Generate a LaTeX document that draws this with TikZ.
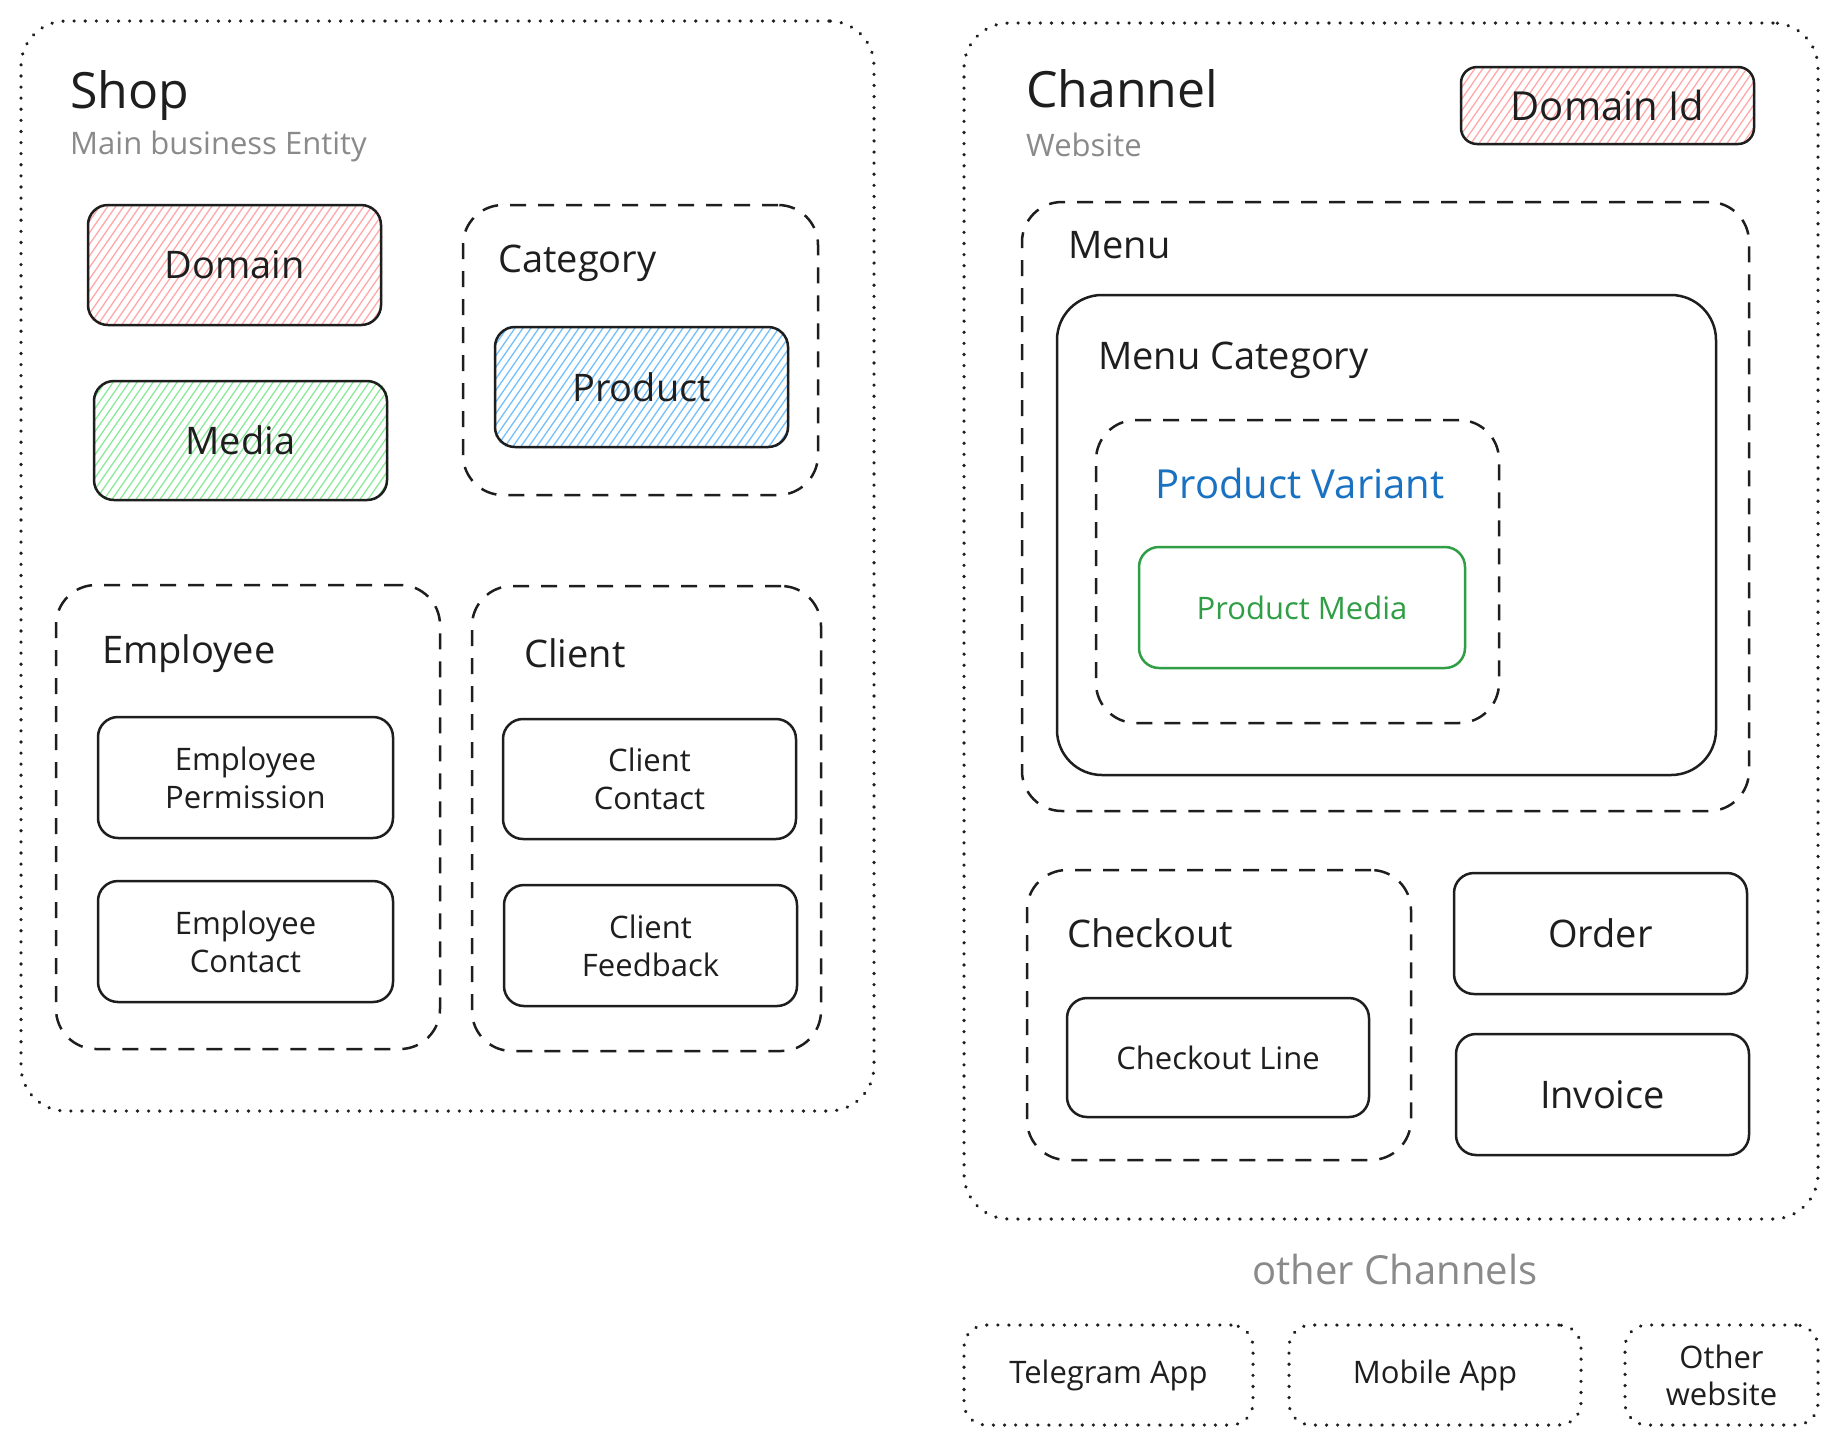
\documentclass[tikz,border=0pt]{standalone}
\usepackage{fontspec}
\setmainfont{Open Sans}
\usetikzlibrary{backgrounds,calc}
\definecolor{ink}{HTML}{1E1E1E}
\definecolor{hpink}{HTML}{FFA8A8}
\definecolor{hgreen}{HTML}{8CE99A}
\definecolor{hblue}{HTML}{74C0FC}
\definecolor{vblue}{HTML}{1971C2}
\definecolor{mgreen}{HTML}{2F9E44}
\definecolor{subgray}{HTML}{8A8A8A}
\newcommand\hatchfill[2]{%
  \begin{scope}[on background layer]
   \begin{scope}
    \clip[rounded corners=20pt] (#1.south west) rectangle (#1.north east);
    \foreach \k in {0,...,55}{\draw[#2,line width=1.3pt] ($(#1.south west)+(\k*8-110,0)$) -- ++(90,-130);}
   \end{scope}
  \end{scope}}
\tikzset{
  leaf/.style={draw=ink,line width=2.5pt,rounded corners=20pt,align=center,text=ink,inner sep=0pt,font=\fontsize{38}{44}\selectfont},
  smallleaf/.style={leaf,font=\fontsize{31}{38}\selectfont},
  dashbox/.style={draw=ink,line width=2.5pt,rounded corners=40pt,dash pattern=on 16pt off 12pt,inner sep=0pt},
  dotbox/.style={draw=ink,line width=3.5pt,rounded corners=45pt,dash pattern=on 0.1pt off 11pt,line cap=round,inner sep=0pt},
  dotsmall/.style={dotbox,rounded corners=22pt,align=center,text=ink,font=\fontsize{31}{37}\selectfont},
  solidbox/.style={draw=ink,line width=2.5pt,rounded corners=45pt,inner sep=0pt},
  title/.style={anchor=base west,text=ink,inner sep=0pt,font=\fontsize{50}{60}\selectfont},
  sub/.style={anchor=base west,text=subgray,inner sep=0pt,font=\fontsize{31}{37}\selectfont},
  label/.style={anchor=base west,text=ink,inner sep=0pt,font=\fontsize{38}{44}\selectfont}
}
\begin{document}
\begin{tikzpicture}[x=1pt,y=-1pt]
\begin{scope}[on background layer]
\fill[white] (0,0) rectangle (1838,1444);
\end{scope}
\useasboundingbox (0,0) rectangle (1838,1444);

% ---------- Shop ----------
\node[dotbox,minimum width=853pt,minimum height=1090pt] (shop) at (447.5,566) {};
\node[title] (shopt) at (70,108) {Shop};
\node[sub] (shops) at (70,154) {Main business Entity};

\node[leaf,minimum width=293pt,minimum height=120pt] (domain) at (234.5,265) {Domain};
\hatchfill{domain}{hpink}
\node[leaf,minimum width=293pt,minimum height=119pt] (media) at (240.5,440.5) {Media};
\hatchfill{media}{hgreen}

\node[dashbox,minimum width=355pt,minimum height=290pt] (cat) at (640.5,350) {};
\node[label] (catl) at (498,272) {Category};
\node[leaf,minimum width=293pt,minimum height=120pt] (product) at (641.5,387) {Product};
\hatchfill{product}{hblue}

\node[dashbox,minimum width=384pt,minimum height=464pt] (emp) at (248,817) {};
\node[label] (empl) at (102,663) {Employee};
\node[smallleaf,minimum width=295pt,minimum height=121pt] (empperm) at (245.5,777.5) {Employee\\Permission};
\node[smallleaf,minimum width=295pt,minimum height=121pt] (empcont) at (245.5,941.5) {Employee\\Contact};

\node[dashbox,minimum width=349pt,minimum height=465pt] (client) at (646.5,818.5) {};
\node[label] (clientl) at (524,667) {Client};
\node[smallleaf,minimum width=293pt,minimum height=120pt] (clcont) at (649.5,779) {Client\\Contact};
\node[smallleaf,minimum width=293pt,minimum height=121pt] (clfeed) at (650.5,945.5) {Client\\Feedback};

% ---------- Channel ----------
\node[dotbox,minimum width=854pt,minimum height=1196pt] (channel) at (1391,621) {};
\node[title] (chant) at (1026,107) {Channel};
\node[sub] (chans) at (1026,156) {Website};
\node[leaf,minimum width=293pt,minimum height=77pt,rounded corners=16pt,font=\fontsize{40}{46}\selectfont] (domid) at (1607.5,105.5) {Domain Id};
\hatchfill{domid}{hpink}

\node[dashbox,minimum width=727pt,minimum height=609pt] (menu) at (1385.5,506.5) {};
\node[label] (menul) at (1068,258) {Menu};
\node[solidbox,minimum width=659pt,minimum height=480pt] (menucat) at (1386.5,535) {};
\node[label] (menucatl) at (1098,369) {Menu Category};
\node[dashbox,minimum width=403pt,minimum height=303pt] (pv) at (1297.5,571.5) {};
\node[label,anchor=base,text=vblue,font=\fontsize{40}{46}\selectfont] (pvl) at (1300,498) {Product Variant};
\node[smallleaf,draw=mgreen,text=mgreen,minimum width=326pt,minimum height=121pt] (pmedia) at (1302,607.5) {Product Media};

\node[dashbox,minimum width=384pt,minimum height=290pt] (checkout) at (1219,1015) {};
\node[label] (checkoutl) at (1067,947) {Checkout};
\node[smallleaf,minimum width=302pt,minimum height=119pt] (coline) at (1218,1057.5) {Checkout Line};
\node[leaf,minimum width=293pt,minimum height=121pt] (order) at (1600.5,933.5) {Order};
\node[leaf,minimum width=293pt,minimum height=121pt] (invoice) at (1602.5,1094.5) {Invoice};

% ---------- other channels ----------
\node[anchor=base,text=subgray,inner sep=0pt,font=\fontsize{40}{46}\selectfont] (other) at (1395,1284) {other Channels};
\node[dotsmall,minimum width=289pt,minimum height=100pt] (telegram) at (1108.5,1375) {Telegram App};
\node[dotsmall,minimum width=292pt,minimum height=100pt] (mobile) at (1435,1375) {Mobile App};
\node[dotsmall,minimum width=193pt,minimum height=100pt] (otherweb) at (1721.5,1375) {Other\\website};
\end{tikzpicture}
\end{document}
